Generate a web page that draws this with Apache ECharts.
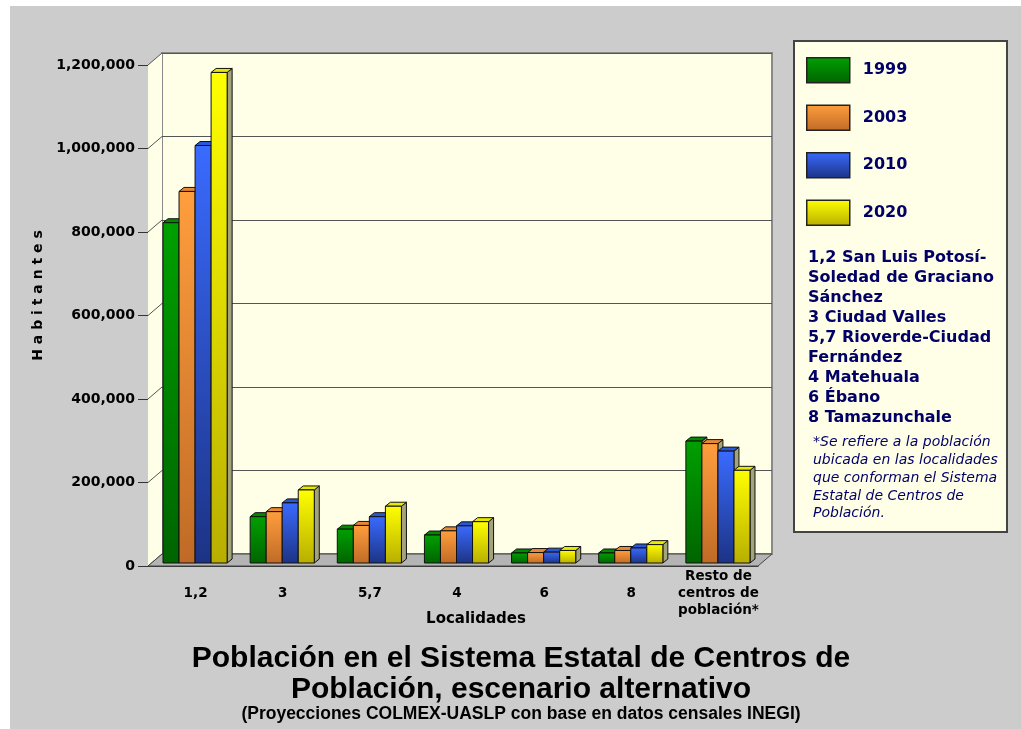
<!DOCTYPE html>
<html>
<head>
<meta charset="utf-8">
<script src="https://cdn.jsdelivr.net/npm/echarts@6/dist/echarts.min.js"></script>
<style>
  html, body { margin: 0; padding: 0; background: #CCCCCC; }
  #chart { width: 1021px; height: 729px; }
</style>
</head>
<body>
<div id="chart"></div>
<script>
// Localidades (eje X)
const categories = ['1,2', '3', '5,7', '4', '6', '8', 'Resto de\ncentros de\npoblación*'];
// Años de la proyección
const years = ['1999', '2003', '2010', '2020'];
// Habitantes por localidad y año
const pop1999 = [815000, 111000, 81000, 67000, 24000, 24000, 292000];
const pop2003 = [890000, 123000, 90000, 77000, 25000, 30000, 286000];
const pop2010 = [1000000, 144000, 111000, 89000, 26000, 36000, 268000];
const pop2020 = [1175000, 175000, 136000, 99000, 30000, 44000, 222000];
// Escala del eje Y
const yMin = 0;
const yMax = 1200000;
const yStep = 200000;

const seriesValues = [pop1999, pop2003, pop2010, pop2020];

const FONT = 'DejaVu Sans';
const NAVY = '#000066';

// Profundidad de la caja 3D (pared lateral / piso) y de cada barra
const DEPTH_X = 14, DEPTH_Y = 12;
const BAR_PLANE = 0.25;      // fracción de profundidad donde está la cara frontal de las barras
const BAR_DX = 5, BAR_DY = 4; // profundidad propia de cada barra
const BAR_FRAC = 0.184;      // ancho de barra respecto al ancho de categoría

const G = echarts.graphic.LinearGradient;
const palette = [
  { face: ['#00A000', '#006400'], top: '#008A00' },
  { face: ['#FF9E3D', '#BF6A26'], top: '#E88A34' },
  { face: ['#3A6BFF', '#1C3384'], top: '#2A57D6' },
  { face: ['#FFFF00', '#B8AE00'], top: '#E8E800' }
];
const faceFill = (k) => new G(0, 0, 0, 1, [
  { offset: 0, color: palette[k].face[0] },
  { offset: 1, color: palette[k].face[1] }
]);

function barRenderer(k) {
  return function (params, api) {
    const ci = api.value(0);
    const base = api.coord([ci, 0]);
    const top = api.coord([ci, api.value(1)]);
    const bw = api.size([1, 0])[0] * BAR_FRAC;
    const sx = DEPTH_X * BAR_PLANE, sy = DEPTH_Y * BAR_PLANE;
    const x0 = base[0] - 2 * bw + k * bw + sx;
    const x1 = x0 + bw;
    const yb = base[1] - sy;
    const yt = top[1] - sy;
    const edge = { stroke: '#111111', lineWidth: 1 };
    return {
      type: 'group',
      children: [
        { type: 'polygon',
          shape: { points: [[x1, yt], [x1 + BAR_DX, yt - BAR_DY], [x1 + BAR_DX, yb - BAR_DY], [x1, yb]] },
          style: Object.assign({ fill: '#A3A37C' }, edge) },
        { type: 'polygon',
          shape: { points: [[x0, yt], [x1, yt], [x1 + BAR_DX, yt - BAR_DY], [x0 + BAR_DX, yt - BAR_DY]] },
          style: Object.assign({ fill: palette[k].top }, edge) },
        { type: 'rect',
          shape: { x: x0, y: yt, width: bw, height: yb - yt },
          style: Object.assign({ fill: faceFill(k) }, edge) }
      ]
    };
  };
}

// Pared lateral, líneas de la pared y piso de la caja 3D
function sceneRenderer(params, api) {
  const cs = params.coordSys;
  const L = cs.x, R = cs.x + cs.width, B = cs.y + cs.height, T = cs.y;
  const children = [
    { type: 'polygon',
      shape: { points: [[L, T], [L + DEPTH_X, T - DEPTH_Y], [L + DEPTH_X, B - DEPTH_Y], [L, B]] },
      style: { fill: '#FFFFE8' } }
  ];
  for (let v = yMin; v <= yMax; v += yStep) {
    const y = api.coord([0, v])[1];
    children.push({ type: 'line',
      shape: { x1: L, y1: y, x2: L + DEPTH_X, y2: y - DEPTH_Y },
      style: { stroke: '#555555', lineWidth: 1 } });
  }
  children.push({ type: 'polygon',
    shape: { points: [[L, B], [R, B], [R + DEPTH_X, B - DEPTH_Y], [L + DEPTH_X, B - DEPTH_Y]] },
    style: { fill: '#B4B4B4', stroke: '#444444', lineWidth: 1 } });
  return { type: 'group', children: children };
}

const chart = echarts.init(document.getElementById('chart'));

const option = {
  backgroundColor: '#CCCCCC',
  animation: false,
  title: {
    text: 'Población en el Sistema Estatal de Centros de\nPoblación, escenario alternativo',
    subtext: '(Proyecciones COLMEX-UASLP con base en datos censales INEGI)',
    left: 516,
    top: 638,
    textAlign: 'center',
    padding: 5,
    itemGap: 0,
    textStyle: { fontFamily: 'Liberation Sans', fontWeight: 'bold', fontSize: 30, lineHeight: 31, color: '#000000' },
    subtextStyle: { fontFamily: 'Liberation Sans', fontWeight: 'bold', fontSize: 17.5, lineHeight: 18, color: '#000000' }
  },
  legend: {
    orient: 'vertical',
    left: 806,
    top: 57,
    padding: 0,
    itemWidth: 43,
    itemHeight: 25,
    itemGap: 21,
    icon: 'rect',
    data: years,
    selectedMode: false,
    itemStyle: { borderColor: '#222222', borderWidth: 1.5 },
    textStyle: { fontFamily: FONT, fontWeight: 'bold', fontSize: 16, color: NAVY, padding: [0, 0, 0, 8] },
    z: 6
  },
  grid: [
    { left: 148, top: 65, width: 610, height: 501 },
    { left: 162, top: 53, width: 610, height: 501, show: true,
      backgroundColor: '#FFFFE8', borderColor: '#8A8A8A', borderWidth: 2 }
  ],
  xAxis: [
    { type: 'category', gridIndex: 0, data: categories,
      axisLine: { lineStyle: { color: '#333333', width: 1 } },
      axisTick: { length: 8, lineStyle: { color: '#333333' } },
      axisLabel: { fontFamily: FONT, fontWeight: 'bold', fontSize: 13.5, color: '#000000',
        lineHeight: 17, verticalAlign: 'middle', margin: 27, padding: [0, 0, 0, 8], interval: 0 },
      name: 'Localidades', nameLocation: 'middle', nameGap: 46, nameMoveOverlap: false,
      nameTextStyle: { fontFamily: FONT, fontWeight: 'bold', fontSize: 15, color: '#000000', padding: [0, 0, 0, 46] }
    },
    { type: 'category', gridIndex: 1, data: categories, show: false }
  ],
  yAxis: [
    { type: 'value', gridIndex: 0, min: yMin, max: yMax, interval: yStep,
      axisLine: { show: true, lineStyle: { color: '#808080', width: 1 } },
      axisTick: { show: true, length: 10, lineStyle: { color: '#333333' } },
      splitLine: { show: false },
      axisLabel: { fontFamily: FONT, fontWeight: 'bold', fontSize: 14, color: '#000000', margin: 13,
        formatter: (v) => v.toLocaleString('en-US') },
      name: 'H a b i t a n t e s', nameLocation: 'middle', nameRotate: 90, nameGap: 102,
      nameTextStyle: { fontFamily: FONT, fontWeight: 'bold', fontSize: 14, color: '#000000', padding: [0, 0, 0, 40] }
    },
    { type: 'value', gridIndex: 1, min: yMin, max: yMax, interval: yStep,
      axisLine: { show: false }, axisTick: { show: false }, axisLabel: { show: false },
      splitLine: { show: true, lineStyle: { color: '#555555', width: 1 } }
    }
  ],
  graphic: [
    { type: 'rect', shape: { x: 0, y: 0, width: 10, height: 729 }, style: { fill: '#FFFFFF' }, silent: true },
    { type: 'rect', shape: { x: 0, y: 0, width: 1021, height: 6 }, style: { fill: '#FFFFFF' }, silent: true },
    { type: 'rect', shape: { x: 794, y: 41, width: 213, height: 491 },
      style: { fill: '#FFFFE8', stroke: '#444444', lineWidth: 2 }, z: 1, silent: true },
    { type: 'text', left: 808, top: 248, z: 2, silent: true,
      style: { text: '1,2 San Luis Potosí-\nSoledad de Graciano\nSánchez\n3 Ciudad Valles\n5,7 Rioverde-Ciudad\nFernández\n4 Matehuala\n6 Ébano\n8 Tamazunchale',
        font: 'bold 16px "DejaVu Sans"', fill: NAVY, lineHeight: 20 } },
    { type: 'text', left: 813, top: 434, z: 2, silent: true,
      style: { text: '*Se refiere a la población\nubicada en las localidades\nque conforman el Sistema\nEstatal de Centros de\nPoblación.',
        font: 'italic 14px "DejaVu Sans"', fill: NAVY, lineHeight: 17.7 } }
  ],
  series: [
    { type: 'custom', name: 'escena', xAxisIndex: 0, yAxisIndex: 0, z: 1, silent: true,
      renderItem: sceneRenderer, data: [[0, 0]] }
  ].concat(years.map((yr, k) => ({
    type: 'custom',
    name: yr,
    xAxisIndex: 0, yAxisIndex: 0, z: 3,
    itemStyle: { color: faceFill(k) },
    renderItem: barRenderer(k),
    encode: { x: 0, y: 1 },
    data: seriesValues[k].map((v, i) => [i, v])
  })))
};

chart.setOption(option);
</script>
</body>
</html>
